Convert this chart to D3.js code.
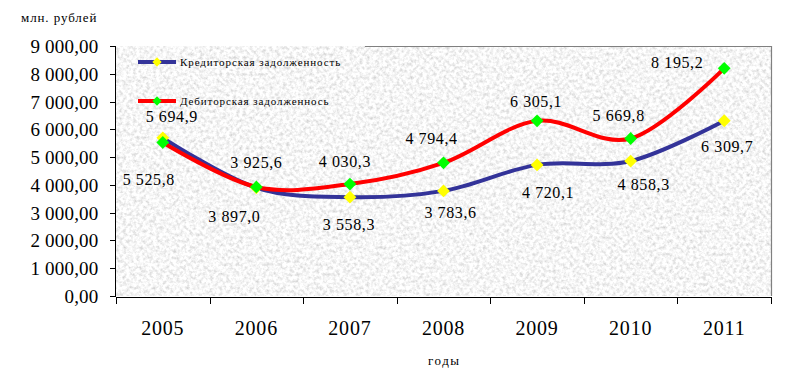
<!DOCTYPE html>
<html>
<head>
<meta charset="utf-8">
<script src="https://cdn.jsdelivr.net/npm/d3@7"></script>
<style>
  body { margin: 0; background: #fff; }
</style>
</head>
<body>
<div id="chart"></div>
<script>
// data
var years = ["2005", "2006", "2007", "2008", "2009", "2010", "2011"];
var kredit = [5694.9, 3897.0, 3558.3, 3783.6, 4720.1, 4858.3, 6309.7];   // Кредиторская задолженность
var debit = [5525.8, 3925.6, 4030.3, 4794.4, 6305.1, 5669.8, 8195.2];    // Дебиторская задолженность
var yTicks = [0, 1000, 2000, 3000, 4000, 5000, 6000, 7000, 8000, 9000];
var seriesNames = ["Кредиторская задолженность", "Дебиторская задолженнось"];

// label offsets (dx, dy from the point)
var kreditOff = [[9, -16], [-22, 34], [-1, 33], [7, 27], [11, 33], [13, 29], [3, 31]];
var debitOff = [[-14, 42], [0, -19], [-5, -17], [-12, -19], [-1, -14], [-12, -18], [-47, 0]];

var W = 803, H = 371;
var plot = { left: 116, right: 771, top: 46, bottom: 296 };
var serif = "Liberation Serif";

var ru = d3.formatLocale({ decimal: ",", thousands: " ", grouping: [3], currency: ["", ""] });
var fmtAxis = ru.format(",.2f");
var fmtVal = ru.format(",.1f");

var x = d3.scaleBand().domain(years).range([plot.left, plot.right]);
var xb = d3.scaleLinear().domain([0, years.length]).range([plot.left, plot.right]); // category borders
var y = d3.scaleLinear().domain([0, 9000]).range([plot.bottom, plot.top]);

var svg = d3.select("#chart").append("svg")
    .attr("width", W)
    .attr("height", H)
    .attr("font-family", serif);

// textured background of the plot area
var defs = svg.append("defs");
var f = defs.append("filter").attr("id", "paper")
    .attr("x", 0).attr("y", 0).attr("width", 1).attr("height", 1);
f.append("feTurbulence")
    .attr("type", "fractalNoise")
    .attr("baseFrequency", "0.3")
    .attr("numOctaves", 3)
    .attr("seed", 7);
f.append("feColorMatrix")
    .attr("type", "matrix")
    .attr("values",
        "0.7 0 0 0 0.57 " +
        "0.7 0 0 0 0.57 " +
        "0.7 0 0 0 0.57 " +
        "0 0 0 0 1");

svg.append("rect")
    .attr("x", plot.left)
    .attr("y", plot.top)
    .attr("width", plot.right - plot.left)
    .attr("height", plot.bottom - plot.top)
    .attr("filter", "url(#paper)");

// gray border top / right
svg.append("path")
    .attr("d", "M365," + (plot.top + 0.5) + "H" + (plot.right + 0.5) + "V" + plot.bottom)
    .attr("fill", "none")
    .attr("stroke", "#808080")
    .attr("stroke-width", 1.2);

// y axis
var yAxis = d3.axisLeft(y)
    .tickValues(yTicks)
    .tickSize(6)
    .tickPadding(11)
    .tickFormat(fmtAxis);

var gy = svg.append("g")
    .attr("transform", "translate(" + (plot.left - 0.5) + ",0)")
    .call(yAxis)
    .attr("font-family", serif)
    .attr("font-size", 19);
gy.select(".domain").attr("d", "M-6," + plot.top + "H0V" + plot.bottom);
gy.selectAll("line, path").attr("stroke", "#000").attr("shape-rendering", "crispEdges");
gy.selectAll("text")
    .attr("fill", "#000")
    .attr("letter-spacing", 0.2)
    .attr("dy", "0.34em");

// x axis: tick marks at category borders
svg.append("g")
    .attr("transform", "translate(0," + (plot.bottom + 0.5) + ")")
    .call(d3.axisBottom(xb).ticks(years.length).tickSize(7).tickSizeOuter(7).tickFormat(""))
    .selectAll("line, path").attr("stroke", "#000").attr("shape-rendering", "crispEdges");

// x labels at the category centres
svg.append("g")
    .selectAll("text")
    .data(years)
    .enter().append("text")
        .attr("x", function(d){ return x(d) + x.bandwidth() / 2; })
        .attr("y", 335)
        .attr("text-anchor", "middle")
        .attr("font-size", 20)
        .attr("letter-spacing", 0.8)
        .text(function(d){ return d; });

// axis titles
svg.append("text")
    .attr("x", 21)
    .attr("y", 22)
    .attr("font-size", 13)
    .attr("letter-spacing", 0.9)
    .text("млн. рублей");

svg.append("text")
    .attr("x", 428)
    .attr("y", 365)
    .attr("font-size", 13)
    .attr("letter-spacing", 1.5)
    .text("годы");

// lines
var line = d3.line()
    .x(function(d, i){ return x(years[i]) + x.bandwidth() / 2; })
    .y(function(d){ return y(d); })
    .curve(d3.curveCardinal.tension(0));

var diamond = d3.symbol().type(d3.symbolDiamond2);

function drawSeries(vals, lineColor, markColor) {
    svg.append("path")
        .datum(vals)
        .attr("d", line)
        .attr("fill", "none")
        .attr("stroke", lineColor)
        .attr("stroke-width", 4);

    svg.append("g")
        .selectAll("path")
        .data(vals)
        .enter().append("path")
            .attr("d", diamond.size(105))
            .attr("transform", function(d, i){
                return "translate(" + (x(years[i]) + x.bandwidth() / 2) + "," + y(d) + ")";
            })
            .attr("fill", markColor);
}

function drawLabels(vals, offs) {
    svg.append("g")
        .selectAll("text")
        .data(vals)
        .enter().append("text")
            .attr("x", function(d, i){ return x(years[i]) + x.bandwidth() / 2 + offs[i][0]; })
            .attr("y", function(d, i){ return y(d) + offs[i][1]; })
            .attr("text-anchor", "middle")
            .attr("font-size", 16)
            .attr("letter-spacing", 0.6)
            .text(function(d){ return fmtVal(d); });
}

drawSeries(kredit, "#333399", "#ffff00");
drawSeries(debit, "#ff0000", "#00ff00");
drawLabels(kredit, kreditOff);
drawLabels(debit, debitOff);

// legend
var legend = svg.append("g");
var legendRows = [
    { name: seriesNames[0], line: "#333399", mark: "#ffff00", y: 62 },
    { name: seriesNames[1], line: "#ff0000", mark: "#00ff00", y: 101 }
];
legendRows.forEach(function(r){
    legend.append("line")
        .attr("x1", 138).attr("x2", 176)
        .attr("y1", r.y).attr("y2", r.y)
        .attr("stroke", r.line)
        .attr("stroke-width", 4);
    legend.append("path")
        .attr("d", diamond.size(55))
        .attr("transform", "translate(157," + r.y + ")")
        .attr("fill", r.mark);
    legend.append("text")
        .attr("x", 180)
        .attr("y", r.y + 4)
        .attr("font-size", 11)
        .attr("letter-spacing", 0.9)
        .text(r.name);
});
</script>
</body>
</html>
